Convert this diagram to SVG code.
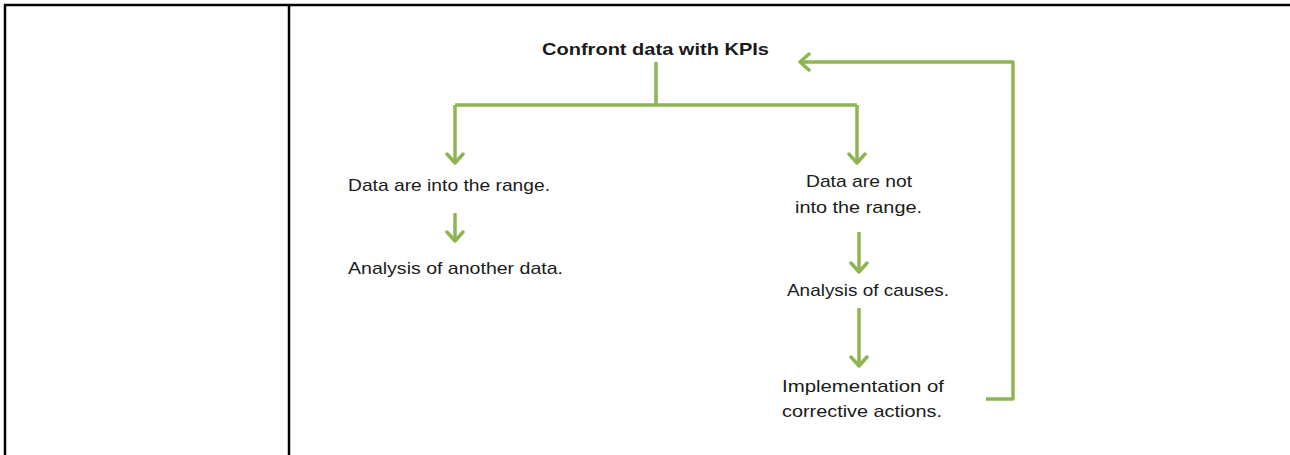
<svg xmlns="http://www.w3.org/2000/svg" width="1290" height="455" viewBox="0 0 1290 455">
<defs>
<style>
.frame{stroke:#000;stroke-width:2.5;fill:none}
.conn{stroke:#8fb553;stroke-width:3.5;fill:none;stroke-linejoin:round}
.t{font-family:"Liberation Sans",Arial,sans-serif;font-size:17px;fill:#1a1a1a}
.b{font-weight:bold}
</style>
<marker id="arr" markerUnits="userSpaceOnUse" viewBox="-12 -10 14 20" refX="0" refY="0" markerWidth="14" markerHeight="20" orient="auto">
<path d="M-9,-8 L0,0 L-9,8" fill="none" stroke="#8fb553" stroke-width="3.5" stroke-linejoin="round" stroke-linecap="round"/>
</marker>
</defs>
<rect width="1290" height="455" fill="#fff"/>
<g id="frame">
<path class="frame" d="M4,5 H1290 M5,4 V455 M289,4 V455"/>
</g>
<g id="connectors">
<path class="conn" d="M656,62 V105"/>
<path class="conn" d="M455,105 H857" />
<path class="conn" d="M455,105 V163" marker-end="url(#arr)"/>
<path class="conn" d="M857,105 V163" marker-end="url(#arr)"/>
<path class="conn" d="M455,213 V241" marker-end="url(#arr)"/>
<path class="conn" d="M859,232 V272" marker-end="url(#arr)"/>
<path class="conn" d="M859,308 V366" marker-end="url(#arr)"/>
<path class="conn" d="M986,399 H1013 V62 H800" marker-end="url(#arr)"/>
</g>
<g id="n-confront">
<text class="t b" x="542" y="55" textLength="227" lengthAdjust="spacingAndGlyphs">Confront data with KPIs</text>
</g>
<g id="n-in-range">
<text class="t" x="348" y="191" textLength="202" lengthAdjust="spacingAndGlyphs">Data are into the range.</text>
</g>
<g id="n-another">
<text class="t" x="348" y="274" textLength="215" lengthAdjust="spacingAndGlyphs">Analysis of another data.</text>
</g>
<g id="n-not-range">
<text class="t" x="806" y="187" textLength="106" lengthAdjust="spacingAndGlyphs">Data are not</text>
<text class="t" x="795" y="213" textLength="127" lengthAdjust="spacingAndGlyphs">into the range.</text>
</g>
<g id="n-causes">
<text class="t" x="787" y="296" textLength="162" lengthAdjust="spacingAndGlyphs">Analysis of causes.</text>
</g>
<g id="n-implement">
<text class="t" x="782" y="392" textLength="162" lengthAdjust="spacingAndGlyphs">Implementation of</text>
<text class="t" x="782" y="417" textLength="160" lengthAdjust="spacingAndGlyphs">corrective actions.</text>
</g>
</svg>
